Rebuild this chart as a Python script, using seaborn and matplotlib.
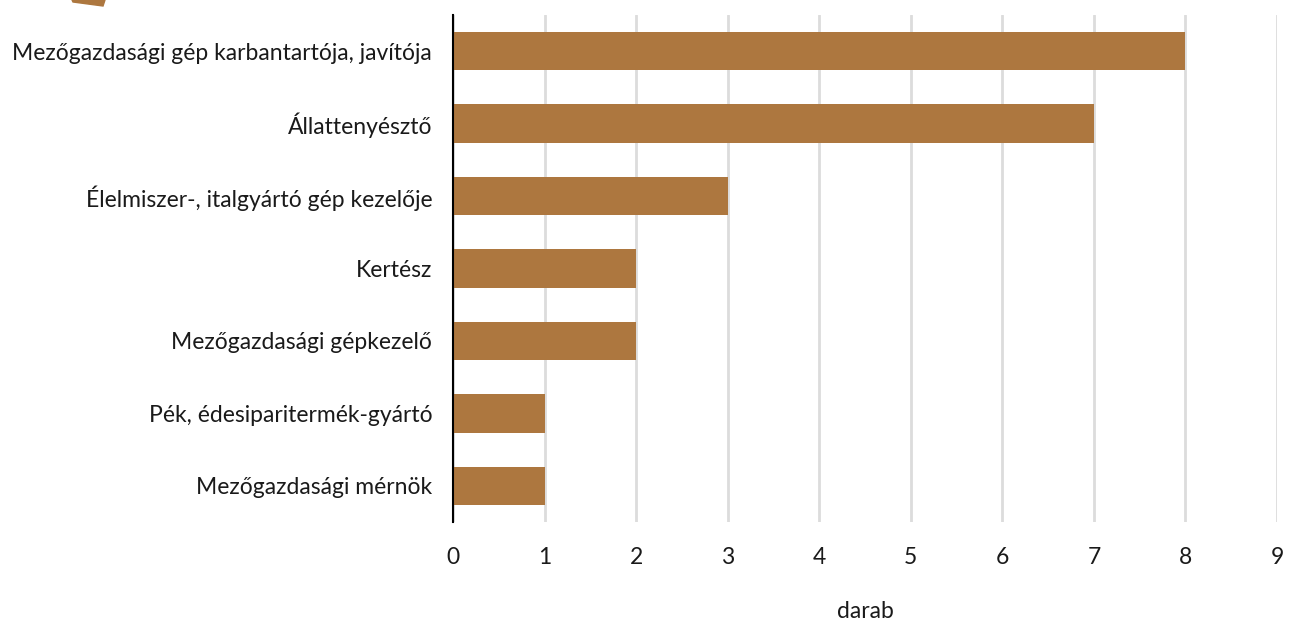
import matplotlib
matplotlib.use("Agg")
import matplotlib.pyplot as plt
import seaborn as sns
import pandas as pd
from matplotlib.patches import Polygon

categories = [
    "Mezőgazdasági gép karbantartója, javítója",
    "Állattenyésztő",
    "Élelmiszer-, italgyártó gép kezelője",
    "Kertész",
    "Mezőgazdasági gépkezelő",
    "Pék, édesiparitermék-gyártó",
    "Mezőgazdasági mérnök",
]
values = [8, 7, 3, 2, 2, 1, 1]
xticks = list(range(0, 10))

df = pd.DataFrame({"cat": categories, "val": values})

sns.set_theme(style="white")
plt.rcParams["font.family"] = ["Lato", "DejaVu Sans"]

fig = plt.figure(figsize=(12.89, 6.25), dpi=100)
ax = fig.add_axes([453/1289, 1 - 522/625, (1277-453)/1289, (522-15)/625])

sns.barplot(data=df, x="val", y="cat", color="#AD773F", width=0.53,
            saturation=1, ax=ax, orient="h", linewidth=0)

ax.set_xlim(0, 9)
ax.set_ylim(6.5, -0.5)
ax.set_xticks(xticks)
ax.set_xticklabels([str(t) for t in xticks], fontsize=16.5, color="#1a1a1a")
ax.tick_params(axis="y", labelsize=16.5, labelcolor="#1a1a1a", length=0, pad=15)
ax.tick_params(axis="x", length=0, pad=18)
ax.xaxis.grid(True, color="#dcdcdc", linewidth=2)
ax.set_axisbelow(True)
for s in ["top", "right", "bottom"]:
    ax.spines[s].set_visible(False)
ax.spines["left"].set_color("#000000")
ax.spines["left"].set_linewidth(1.5)
ax.set_ylabel("")
ax.set_xlabel("darab", fontsize=16.5, color="#1a1a1a", labelpad=24)

# decorative corner shape
fig.patches.append(Polygon([(72/1289, 1.0), (105/1289, 1.0), (103/1289, 1-6/625), (73/1289, 1-2/625)],
                           closed=True, transform=fig.transFigure, color="#AD773F"))

fig.savefig("out.png", dpi=100)
